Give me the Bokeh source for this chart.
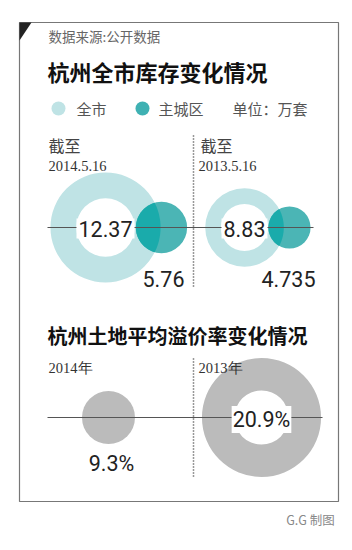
import numpy as np
from bokeh.plotting import figure
from bokeh.models import Range1d
from bokeh.core.properties import value
from bokeh.embed import file_html
from bokeh.resources import INLINE

# ---- data ----
dates = ["2014.5.16", "2013.5.16"]
city_total = [12.37, 8.83]      # 全市库存 (万套)
main_city = [5.76, 4.735]       # 主城区库存 (万套)
years = ["2014年", "2013年"]
premium = [9.3, 20.9]           # 土地平均溢价率 (%)

# ---- layout / styles ----
W, H = 352, 550
k_top = 4.45          # px per 万套 (radius)
k_bot = 2.85          # px per % (radius)
ring_x = [105, 244]
main_x = [161, 289]
top_y = 227
hole_ratio_top = [0.53, 0.60]
prem_x = [108, 261]
bot_y = 417
hole_ratio_bot = [0.0, 0.455]

LIGHT = "#bfe3e5"
MID = "#4bb5b5"
DARK = "#1aabab"
GRAY = "#bbbbbb"
CJK = value("Noto Sans CJK SC")
NUM = value("Roboto")
NUM_SIZE = "21.5px"
SERIF = value("Liberation Serif")

p = figure(width=W, height=H, x_range=Range1d(0, W), y_range=Range1d(H, 0),
           output_backend="svg", toolbar_location=None, min_border=0)
p.axis.visible = False
p.grid.visible = False
p.outline_line_color = None
p.background_fill_color = "white"
p.border_fill_color = "white"

# frame
p.quad(left=[19], right=[338], top=[22], bottom=[501], fill_color=None,
       line_color="#777777", line_width=1.2)
p.patch([19, 31, 19], [22, 22, 40], color="#222222", line_width=0)

# header texts
p.text([48], [35], text=["数据来源:公开数据"], text_font=CJK, text_font_size="13.5px",
       text_color="#666666", text_baseline="middle")
p.text([47], [70], text=["杭州全市库存变化情况"], text_font=CJK, text_font_size="22px",
       text_font_style="bold", text_color="#111111", text_baseline="middle")

# legend
p.scatter([58], [108], size=14, color=LIGHT, line_width=0)
p.scatter([142], [108], size=14, color="#3fb1b3", line_width=0)
p.text([76, 158, 232], [108, 108, 108], text=["全市", "主城区", "单位：万套"], text_font=CJK,
       text_font_size="15px", text_color="#555555", text_baseline="middle")

# top section: rings + main circles
for i in range(2):
    R = city_total[i] * k_top
    r = main_city[i] * k_top
    p.annulus(x=[ring_x[i]], y=[top_y], inner_radius=R * hole_ratio_top[i], outer_radius=R,
              color=LIGHT, line_width=0)
    p.circle(x=[main_x[i]], y=[top_y], radius=r, color=MID, line_width=0)
    # overlap lens
    d = main_x[i] - ring_x[i]
    a = (d * d + R * R - r * r) / (2 * d)
    h = np.sqrt(max(R * R - a * a, 0))
    t1 = np.arctan2(h, a)
    t2 = np.arctan2(h, d - a)
    ang1 = np.linspace(-t1, t1, 40)
    ang2 = np.linspace(np.pi - t2, np.pi + t2, 40)
    xs = np.concatenate([ring_x[i] + R * np.cos(ang1), main_x[i] + r * np.cos(ang2)])
    ys = np.concatenate([top_y + R * np.sin(ang1), top_y + r * np.sin(ang2)])
    p.patch(xs, ys, color=DARK, line_width=0)

p.segment(x0=[47], y0=[top_y], x1=[313], y1=[top_y], line_color="#555555", line_width=1.2)
p.segment(x0=[193], y0=[135], x1=[193], y1=[287], line_color="#333333", line_width=1.5,
          line_dash="1 2")

# top texts
p.text([48, 200], [144, 144], text=["截至", "截至"], text_font=CJK, text_font_size="16px",
       text_color="#444444", text_baseline="middle")
p.text([48, 198], [165, 165], text=dates, text_font=SERIF, text_font_size="14.5px",
       text_color="#333333", text_baseline="middle")
p.text(ring_x, [top_y + 1] * 2, text=[f"{v:g}" for v in city_total], text_font=NUM,
       text_font_size=NUM_SIZE, text_color="#222222", text_align="center",
       text_baseline="middle", background_fill_color="white", padding=2)
p.text([163, 288], [278, 278], text=[f"{v:g}" for v in main_city], text_font=NUM,
       text_font_size=NUM_SIZE, text_color="#222222", text_align="center",
       text_baseline="middle")

# bottom section
p.text([47], [335], text=["杭州土地平均溢价率变化情况"], text_font=CJK, text_font_size="20px",
       text_font_style="bold", text_color="#111111", text_baseline="middle")
for i in range(2):
    R = premium[i] * k_bot
    if hole_ratio_bot[i] > 0:
        p.annulus(x=[prem_x[i]], y=[bot_y], inner_radius=R * hole_ratio_bot[i], outer_radius=R,
                  color=GRAY, line_width=0)
    else:
        p.circle(x=[prem_x[i]], y=[bot_y], radius=R, color=GRAY, line_width=0)

p.segment(x0=[47], y0=[bot_y], x1=[322], y1=[bot_y], line_color="#555555", line_width=1.2)
p.segment(x0=[193], y0=[358], x1=[193], y1=[478], line_color="#333333", line_width=1.5,
          line_dash="1 2")
p.text([48, 198], [367, 367], text=years, text_font=SERIF, text_font_size="14.5px",
       text_color="#333333", text_baseline="middle")
p.text([111], [463], text=[f"{premium[0]:g}%"], text_font=NUM, text_font_size=NUM_SIZE,
       text_color="#222222", text_align="center", text_baseline="middle")
p.text([prem_x[1]], [bot_y + 2], text=[f"{premium[1]:g}%"], text_font=NUM,
       text_font_size=NUM_SIZE, text_color="#222222", text_align="center",
       text_baseline="middle", background_fill_color="white", padding=1)

p.text([337], [519], text=["G.G  制图"], text_font=CJK, text_font_size="12.5px",
       text_color="#888888", text_align="right", text_baseline="middle")

open("out.html", "w").write(file_html(p, INLINE))
